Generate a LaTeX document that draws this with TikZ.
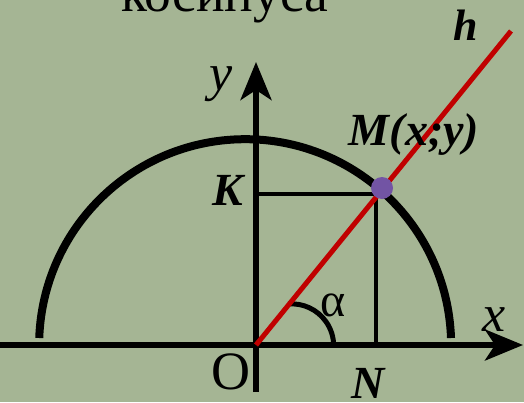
\documentclass[tikz,border=0pt]{standalone}
\usepackage{fontspec}
\setmainfont{Liberation Serif}
\usetikzlibrary{arrows.meta}
\definecolor{bg}{RGB}{165,181,148}
\definecolor{hred}{RGB}{192,0,0}
\definecolor{mdot}{RGB}{114,84,164}
\begin{document}
\begin{tikzpicture}[x=1pt,y=-1pt,
  axisline/.style={line width=5.5pt,-{Stealth[length=38pt,width=31pt,inset=10pt]}},
  thinline/.style={line width=4.5pt},
  lab/.style={inner sep=0pt,anchor=base},
  labit/.style={lab,font=\fontsize{52}{56}\selectfont\itshape},
  labbf/.style={lab,font=\fontsize{46}{50}\selectfont\bfseries\itshape}]
\useasboundingbox (0,0) rectangle (524,402);
\fill[bg] (0,0) rectangle (524,402);
\clip (0,0) rectangle (524,402);
% title (cut off at top)
\node[inner sep=0pt,anchor=base west,font=\fontsize{53.5}{58}\selectfont] (title) at (121,11) {косинуса};
% coordinates
\coordinate (O) at (256,345);
\coordinate (Xs) at (0,345);
\coordinate (Xe) at (523,345);
\coordinate (Ys) at (256,392);
\coordinate (Ye) at (256,62);
\coordinate (M) at (382,188);
\coordinate (C) at (376,194);
\coordinate (K) at (256,194);
\coordinate (N) at (376,345);
\coordinate (H) at (511,31);
\coordinate (A) at (288,304);
% axes
\draw[axisline] (Xs) -- (Xe);
\draw[axisline] (Ys) -- (Ye);
% semicircle
\draw[line width=8pt] (451,338) arc[start angle=-2,end angle=-178,radius=206];
% projections
\draw[thinline] (K) -- (C) -- (N);
% angle arc
\draw[line width=5pt] (A) arc[start angle=-95,end angle=0,radius=42];
% line h
\draw[hred,line width=5pt] (O) -- (H);
% point M
\fill[mdot] (M) circle[radius=11];
% labels
\node[labit] (ly) at (221,90) {y};
\node[labit] (lx) at (494,331) {x};
\node[lab,font=\fontsize{54}{58}\selectfont] (lO) at (231,389) {O};
\node[lab,font=\fontsize{48}{52}\selectfont] (la) at (333,316) {α};
\node[labbf] (lK) at (228,205) {K};
\node[labbf] (lN) at (368,398) {N};
\node[labbf] (lM) at (414,145) {M(x;y)};
\node[lab,font=\fontsize{44}{48}\selectfont\bfseries\itshape] (lh) at (466,40) {h};
\end{tikzpicture}
\end{document}
